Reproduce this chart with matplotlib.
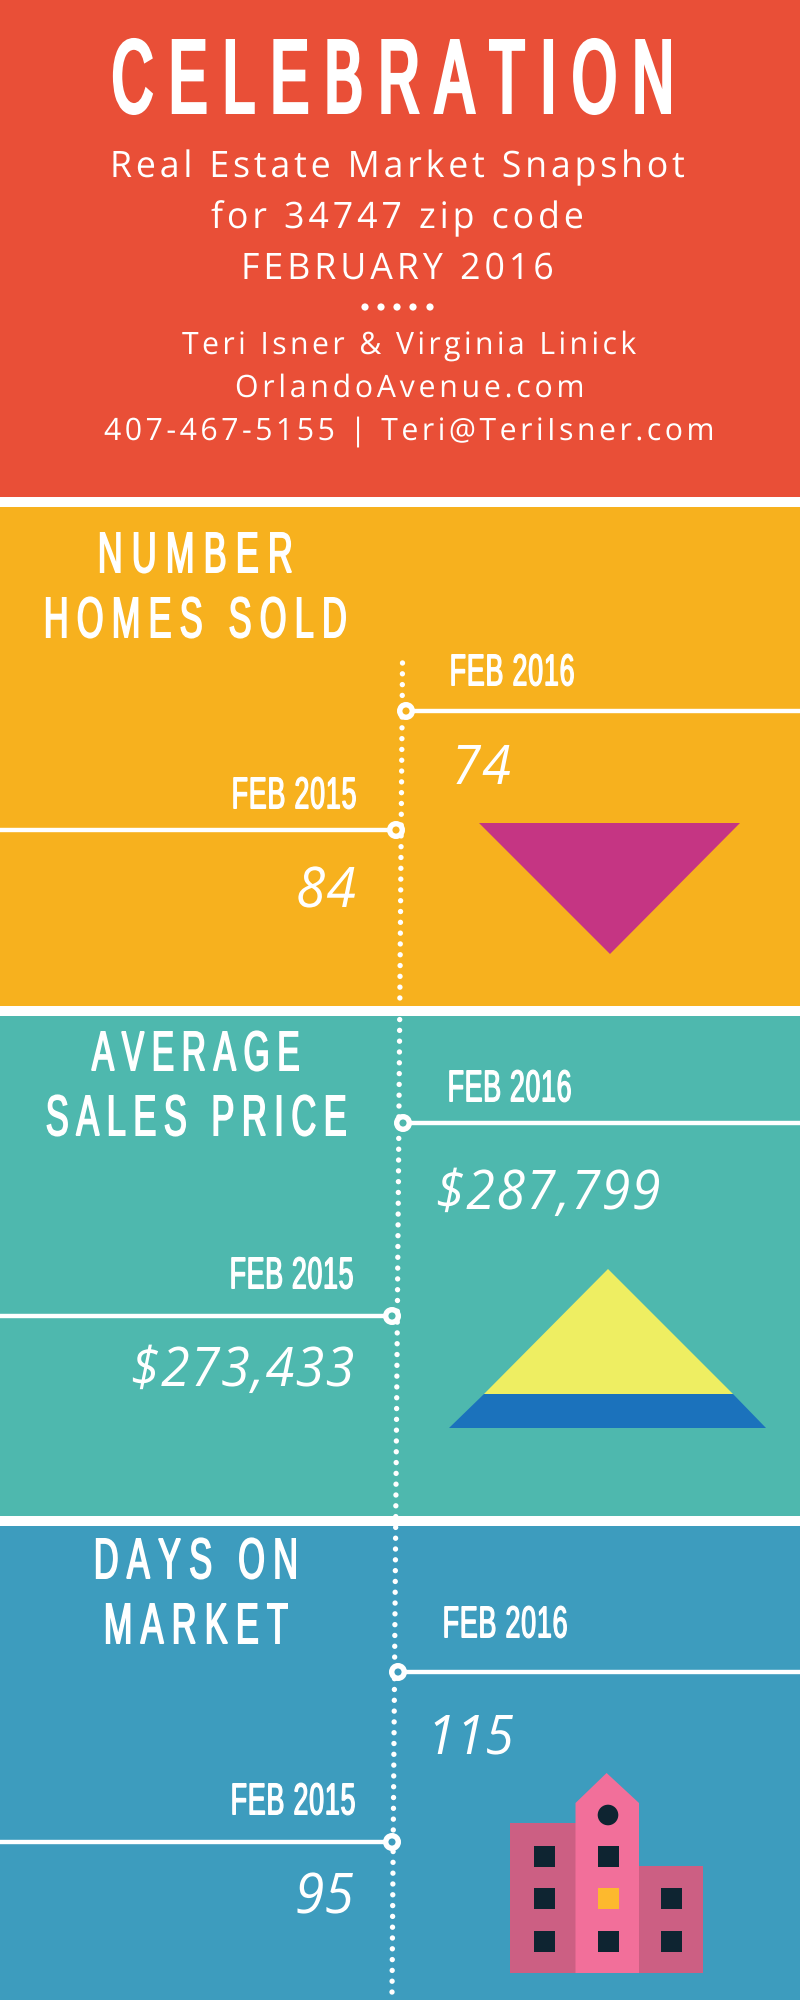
import matplotlib
matplotlib.use("Agg")
import numpy as np
import matplotlib.pyplot as plt
from matplotlib import font_manager as fm
from matplotlib.font_manager import FontProperties
from matplotlib.ft2font import LoadFlags
from matplotlib.patches import Rectangle, Polygon, Circle
from matplotlib.patheffects import AbstractPathEffect
from matplotlib.path import Path
from matplotlib.textpath import TextPath
from matplotlib.transforms import IdentityTransform

# ---------- content ----------
TITLE = "CELEBRATION"
SUBTITLES = ["Real Estate Market Snapshot", "for 34747 zip code", "FEBRUARY 2016"]
CONTACTS = ["Teri Isner & Virginia Linick", "OrlandoAvenue.com",
            "407-467-5155 | Teri@TeriIsner.com"]
SECTION_TITLES = [["NUMBER", "HOMES SOLD"], ["AVERAGE", "SALES PRICE"], ["DAYS ON", "MARKET"]]
LABEL_CUR = "FEB 2016"
LABEL_PREV = "FEB 2015"
VALUES_CUR = ["74", "$287,799", "115"]
VALUES_PREV = ["84", "$273,433", "95"]

# ---------- colours ----------
RED, AMBER, TEAL, BLUE = "#E94F37", "#F7B11E", "#4EB8AE", "#3D9CBE"
MAGENTA, LEMON, ROYAL = "#C53583", "#EEEE62", "#1B72BC"
PINK, ROSE, NAVY, GOLD = "#F26F9A", "#CC5F83", "#0E2431", "#FDB92E"

# ---------- layout (pixels in an 800x2000 canvas) ----------
BANDS = [(0, 497, RED), (507, 1006, AMBER), (1016, 1516, TEAL), (1526, 2000, BLUE)]
SUB_BOX = [(110, 684, 177, 26), (211, 582, 228, 26), (241, 552, 279, 26)]
CONTACT_BOX = [(182, 636, 354, 22), (235, 582, 397, 22), (104, 712, 440, 22)]
SEC_BOX = [[(97, 292, 573, 41), (43, 346, 638, 41)],
           [(91, 299, 1071, 40), (45, 346, 1136, 41)],
           [(93, 296, 1579, 41), (103, 288, 1644, 41)]]
CUR_LABEL_BOX = [(449, 574, 686, 32), (447, 571, 1102, 32), (442, 567, 1638, 32)]
PREV_LABEL_BOX = [(231, 356, 809, 32), (229, 353, 1289, 32), (230, 355, 1815, 32)]
CUR_VALUE_BOX = [(452, 510, 784, 39), (436, 659, 1209, 39), (427, 513, 1754, 39)]
PREV_VALUE_BOX = [(296, 355, 907, 40), (131, 353, 1386, 39), (295, 353, 1913, 40)]
CUR_NODE = [(406, 711), (403, 1123), (398, 1672)]
PREV_NODE = [(396, 830), (392, 1316), (392, 1842)]

DPI = 100
NARROW = "Liberation Sans"
SANS = "Open Sans"


class Tracked(AbstractPathEffect):
    """Draws the text's own string with letter-spacing and horizontal scale."""

    def __init__(self, s, fp, px, width, xscale, stroke):
        super().__init__()
        self.s, self.fp, self.px = s, fp, px
        self.width, self.xscale, self.stroke = width, xscale, stroke

    def draw_path(self, renderer, gc, tpath, affine, rgbFace=None):
        font = fm.get_font(fm.findfont(self.fp))
        pen, pens, glyphs = 0.0, [], []
        for c in self.s:
            glyphs.append(None if c == " " else TextPath((0, 0), c, size=self.px, prop=self.fp))
            pens.append(pen)
            font.set_size(self.px, 72)
            g = font.load_char(ord(c), flags=LoadFlags.NO_HINTING)
            pen += g.linearHoriAdvance / 65536
        left = pens[0] + glyphs[0].vertices[:, 0].min()
        right = pens[-1] + glyphs[-1].vertices[:, 0].max()
        n = len(self.s)
        track = (self.width - self.stroke - (right - left) * self.xscale) / max(n - 1, 1)
        x0, y0 = affine.transform((0, 0))
        verts, codes = [], []
        for i, (p, g) in enumerate(zip(pens, glyphs)):
            if g is None:
                continue
            v = np.array(g.vertices, dtype=float)
            v[:, 0] = (v[:, 0] + p - left) * self.xscale + track * i + x0 + self.stroke / 2
            v[:, 1] = v[:, 1] + y0 + self.stroke / 2
            verts.append(v)
            codes.append(g.codes)
        path = Path(np.vstack(verts), np.concatenate(codes))
        gc0 = renderer.new_gc()
        gc0.copy_properties(gc)
        gc0.set_linewidth(self.stroke * 72 / DPI)
        gc0.set_foreground(rgbFace)
        gc0.set_joinstyle("miter")
        renderer.draw_path(gc0, path, IdentityTransform(), rgbFace)
        gc0.restore()


def put(ax, s, box, family, xscale=1.0, stroke=0.0, style="normal"):
    left, right, base, cap = box
    fp = FontProperties(family=family, style=style)
    h = TextPath((0, 0), "H", size=100, prop=fp).get_extents().height / 100
    px = (cap - stroke) / h
    # the artist's own extent follows the width the string is fitted to
    natural = TextPath((0, 0), s, size=px, prop=fp).get_extents().width
    size = px * min(1.0, (right - left) / natural) * 72 / DPI
    t = ax.text(left, base, s, color="white", ha="left", va="baseline",
                fontproperties=fp, fontsize=size, zorder=6)
    t.set_path_effects([Tracked(s, fp, px, right - left, xscale, stroke)])
    return t


fig = plt.figure(figsize=(8, 20), dpi=DPI, facecolor="white")
ax = fig.add_axes([0, 0, 1, 1])
ax.set_xlim(0, 800)
ax.set_ylim(2000, 0)
ax.axis("off")

for top, bottom, col in BANDS:
    ax.add_patch(Rectangle((0, top), 800, bottom - top, fc=col, ec="none", zorder=1))

# header
put(ax, TITLE, (110, 671, 114, 75), NARROW, xscale=0.55, stroke=4.0)
for s, b in zip(SUBTITLES, SUB_BOX):
    put(ax, s, b, SANS, xscale=0.98)
for s, b in zip(CONTACTS, CONTACT_BOX):
    put(ax, s, b, SANS, xscale=0.98)
for x in (365, 381, 397, 413, 430):
    ax.add_patch(Circle((x, 307), 3.6, fc="white", ec="none", zorder=5))

# dotted time line
ax.plot([402.5, 392], [663, 1993], color="white", lw=5.4 * 72 / DPI,
        linestyle=(0, (0.001, 2.0)), dash_capstyle="round", zorder=3)

# sections
for i in range(3):
    for s, b in zip(SECTION_TITLES[i], SEC_BOX[i]):
        put(ax, s, b, NARROW, xscale=0.60, stroke=1.6)
    put(ax, LABEL_CUR, CUR_LABEL_BOX[i], NARROW, xscale=0.60, stroke=1.3)
    put(ax, LABEL_PREV, PREV_LABEL_BOX[i], NARROW, xscale=0.60, stroke=1.3)
    put(ax, VALUES_CUR[i], CUR_VALUE_BOX[i], SANS, xscale=0.95, style="italic")
    put(ax, VALUES_PREV[i], PREV_VALUE_BOX[i], SANS, xscale=0.95, style="italic")
    nx, ny = CUR_NODE[i]
    ax.plot([nx, 800], [ny, ny], color="white", lw=4.4 * 72 / DPI, solid_capstyle="butt", zorder=4)
    ax.add_patch(Circle((nx, ny), 6.3, fc=BANDS[i + 1][2], ec="white", lw=5.4 * 72 / DPI, zorder=5))
    nx, ny = PREV_NODE[i]
    ax.plot([0, nx], [ny, ny], color="white", lw=4.4 * 72 / DPI, solid_capstyle="butt", zorder=4)
    ax.add_patch(Circle((nx, ny), 6.3, fc=BANDS[i + 1][2], ec="white", lw=5.4 * 72 / DPI, zorder=5))

# icons
ax.add_patch(Polygon([(479, 823), (740, 823), (610, 954)], fc=MAGENTA, ec="none", zorder=3))
ax.add_patch(Polygon([(608, 1269), (733, 1394), (484, 1394)], fc=LEMON, ec="none", zorder=3))
ax.add_patch(Polygon([(484, 1394), (733, 1394), (766, 1428), (449, 1428)], fc=ROYAL, ec="none", zorder=3))

ax.add_patch(Rectangle((510, 1823), 65.5, 150, fc=ROSE, ec="none", zorder=3))
ax.add_patch(Rectangle((639, 1866), 63.5, 107, fc=ROSE, ec="none", zorder=3))
ax.add_patch(Polygon([(575.5, 1973), (575.5, 1803), (606.6, 1773), (639, 1803), (639, 1973)],
                     fc=PINK, ec="none", zorder=3))
ax.add_patch(Circle((608, 1815), 10.3, fc=NAVY, ec="none", zorder=4))
for wx, rows in ((534, (1846, 1888, 1931)), (598, (1846, 1888, 1931)), (661, (1888, 1931))):
    for wy in rows:
        col = GOLD if (wx, wy) == (598, 1888) else NAVY
        ax.add_patch(Rectangle((wx, wy), 20.8, 21, fc=col, ec="none", zorder=4))

fig.savefig("out.png", dpi=DPI, facecolor="white")
